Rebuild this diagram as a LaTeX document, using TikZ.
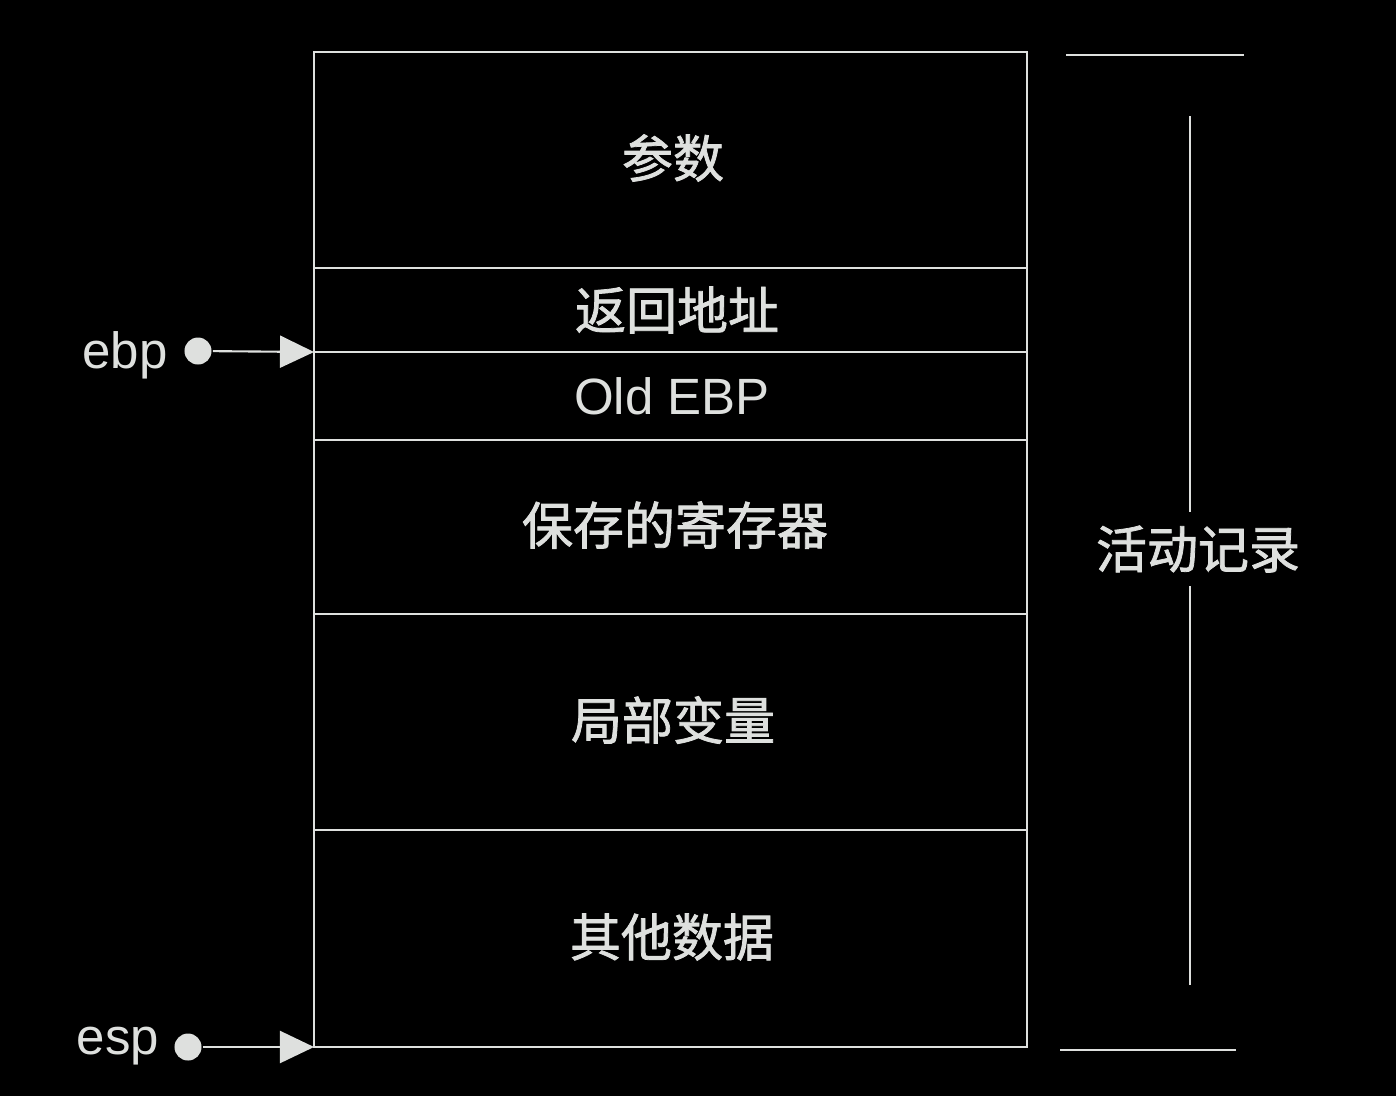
\documentclass[tikz,border=0pt]{standalone}
\usepackage{fontspec}
\setmainfont{Liberation Sans}
\newfontfamily\cjk{Noto Sans CJK SC}[FakeBold=1.5]
\usetikzlibrary{arrows.meta}
\definecolor{ink}{RGB}{222,224,222}

\begin{document}
\begin{tikzpicture}[x=0.01cm,y=-0.01cm,line width=0.8pt,draw=ink,
	cell/.style={font=\cjk\fontsize{14.5}{17}\selectfont,text=ink},
	reg/.style={font=\fontsize{14.5}{16}\selectfont,text=ink},
	dot/.style={circle,fill=ink,inner sep=0pt,minimum size=0.27cm},
	ptr/.style={-{Triangle[length=0.34cm,width=0.32cm]},ink,line width=0.6pt}]
	\fill[black] (0,0) rectangle (1396,1096);
	\useasboundingbox (0,0) rectangle (1396,1096);
	% frame
	\draw (314,52) rectangle (1027,1047);
	\foreach \y in {268,352,440,614,830}
		\draw (314,\y)--(1027,\y);
	\node[cell] (args) at (673,158) {参数};
	\node[cell] (ret) at (677,310) {返回地址};
	\node[reg] (old) at (672,396) {Old EBP};
	\node[cell] (saved) at (675,525) {保存的寄存器};
	\node[cell] (locals) at (673,720) {局部变量};
	\node[cell] (other) at (672,937) {其他数据};
	% registers
	\node[reg] (ebp) at (125,355) {ebp};
	\node[dot] (ebpdot) at (198,351) {};
	\coordinate (ebptip) at (314,352);
	\draw[ptr] (ebpdot)--(ebptip);
	\node[reg] (esp) at (118,1046) {esp};
	\node[dot] (espdot) at (188,1047) {};
	\coordinate (esptip) at (314,1047);
	\draw[ptr] (espdot)--(esptip);
	% activation record
	\draw (1066,55)--(1244,55);
	\draw (1060,1050)--(1236,1050);
	\node[cell] (rec) at (1198,549) {活动记录};
	\coordinate (rectop) at (1190,116);
	\coordinate (recbot) at (1190,985);
	\draw (rectop)--(rectop|-rec.north);
	\draw (recbot)--(recbot|-rec.south);
\end{tikzpicture}
\end{document}
